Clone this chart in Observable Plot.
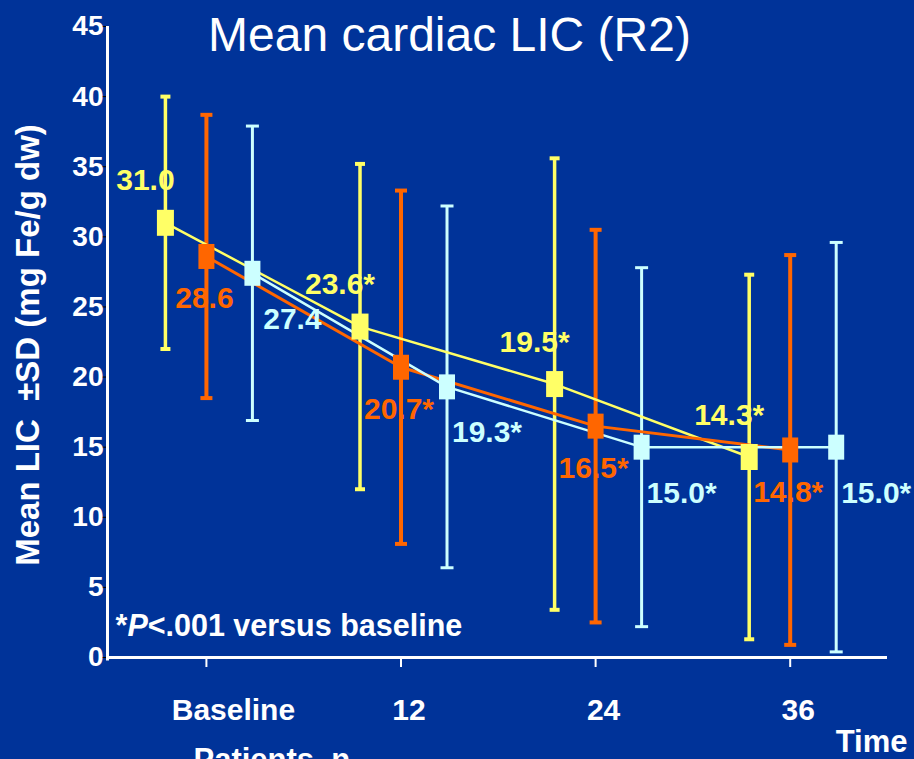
<!DOCTYPE html>
<html>
<head>
<meta charset="utf-8">
<script src="https://cdn.jsdelivr.net/npm/d3@7"></script>
<script src="https://cdn.jsdelivr.net/npm/@observablehq/plot@0.6"></script>
<style>
  html, body { margin: 0; padding: 0; background: #003399; overflow: hidden; }
  #chart svg { display: block; }
</style>
</head>
<body>
<div id="chart"></div>
<script>
// Time points (months) and their axis labels
const months = [0, 12, 24, 36];
const monthLabels = ["Baseline", "12", "24", "36"];
const yTicks = [0, 5, 10, 15, 20, 25, 30, 35, 40, 45];

// Mean cardiac LIC (mg Fe/g dw) and standard deviation per group
const yellowMean = [31.0, 23.6, 19.5, 14.3];
const yellowSD   = [9.0, 11.6, 16.1, 13.0];
const orangeMean = [28.6, 20.7, 16.5, 14.8];
const orangeSD   = [10.1, 12.6, 14.0, 13.9];
const cyanMean   = [27.4, 19.3, 15.0, 15.0];
const cyanSD     = [10.5, 12.9, 12.8, 14.6];

const titleText = "Mean cardiac LIC (R2)";
const yLabel = "Mean LIC  \u00b1SD (mg Fe/g dw)";
const footnote = "*P<.001 versus baseline";

// Visual styling for each group
const groups = [
  {mean: yellowMean, sd: yellowSD, color: "#ffff66", dx: -41, bar: 3.5, line: 2.5, cap: [10, 4], box: [17, 26], label: [-20, -42]},
  {mean: orangeMean, sd: orangeSD, color: "#ff6600", dx: 0,   bar: 4,   line: 3,   cap: [12, 4], box: [16, 25], label: [-2, 42]},
  {mean: cyanMean,   sd: cyanSD,   color: "#ccffff", dx: 46,  bar: 3,   line: 2.5, cap: [13, 3], box: [16, 25], label: [40, 46]}
];

const rect = (w, h) => ({draw(ctx) { ctx.rect(-w / 2, -h / 2, w, h); }});
const font = "'Liberation Sans', Arial, Helvetica, sans-serif";

const rowsOf = g => months.map((m, i) => ({
  month: m,
  mean: g.mean[i],
  sd: g.sd[i],
  label: g.mean[i].toFixed(1) + (i > 0 ? "*" : "")
}));

const xDomain = [-6.1, 42];

const bars = [], lines = [], boxes = [], labels = [];
for (const g of groups) {
  const rows = rowsOf(g);
  bars.push(
    Plot.ruleX(rows, {x: "month", y1: d => d.mean - d.sd, y2: d => d.mean + d.sd, stroke: g.color, strokeWidth: g.bar, dx: g.dx}),
    Plot.dot(rows, {x: "month", y: d => d.mean + d.sd, symbol: rect(...g.cap), fill: g.color, stroke: "none", dx: g.dx}),
    Plot.dot(rows, {x: "month", y: d => d.mean - d.sd, symbol: rect(...g.cap), fill: g.color, stroke: "none", dx: g.dx})
  );
  lines.push(Plot.line(rows, {x: "month", y: "mean", stroke: g.color, strokeWidth: g.line, dx: g.dx}));
  boxes.push(Plot.dot(rows, {x: "month", y: "mean", symbol: rect(...g.box), fill: g.color, stroke: "none", dx: g.dx}));
  labels.push(Plot.text(rows, {
    x: "month", y: "mean", text: "label", fill: g.color,
    dx: g.dx + g.label[0], dy: g.label[1],
    fontSize: 30, fontWeight: "bold"
  }));
}

// Month labels under the x axis
const ticks = months.map((m, i) => ({month: m, label: monthLabels[i]}));
const tickText = (filter, dx) => Plot.text(ticks, {
  filter, x: "month", text: "label", frameAnchor: "bottom", lineAnchor: "top",
  dx, dy: 41, fontSize: 30, fontWeight: "bold", fill: "white"
});

const chart = Plot.plot({
  width: 914,
  height: 759,
  marginLeft: 107,
  marginRight: 27,
  marginTop: 26,
  marginBottom: 102,
  style: {background: "#003399", color: "white", fontFamily: font},
  x: {domain: xDomain},
  y: {domain: [0, 45]},
  marks: [
    Plot.axisY({ticks: yTicks, tickSize: 5, tickPadding: -1, stroke: "black", fill: "white",
      fontSize: 28, fontWeight: "bold", label: null}),
    Plot.axisX({ticks: months, tickFormat: () => "", tickSize: 10, stroke: "white", strokeWidth: 2, label: null}),
    tickText(d => d.month === 0, 27),
    tickText(d => d.month !== 0, 8),
    Plot.ruleY([0], {stroke: "white", strokeWidth: 3}),
    Plot.ruleX([xDomain[0]], {stroke: "white", strokeWidth: 3, y1: 45, y2: -0.25}),
    ...bars,
    ...lines,
    ...boxes,
    ...labels,
    Plot.text([titleText], {text: d => d, frameAnchor: "top", lineAnchor: "bottom",
      dx: -48, dy: 24, fontSize: 48, fill: "white"}),
    Plot.text([yLabel], {text: d => d, frameAnchor: "left", textAnchor: "middle", rotate: -90,
      dx: -79, dy: 3, fontSize: 33, fontWeight: "bold", fill: "white"}),
    Plot.text([footnote], {text: d => d, frameAnchor: "bottom-left", textAnchor: "start", lineAnchor: "bottom",
      dx: 8, dy: -22, fontSize: 30.5, fontWeight: "bold", fill: "white"}),
    Plot.text(["Time"], {text: d => d, frameAnchor: "bottom-right", textAnchor: "end", lineAnchor: "bottom",
      dx: 20, dy: 94, fontSize: 31, fontWeight: "bold", fill: "white"}),
    Plot.text(["Patients, n"], {text: d => d, frameAnchor: "bottom-left", textAnchor: "start", lineAnchor: "bottom",
      dx: 86, dy: 112, fontSize: 31, fontWeight: "bold", fill: "white"})
  ]
});

// Italicise the "P" of the footnote
d3.select(chart).selectAll("text").each(function () {
  if (this.textContent === footnote) {
    const t = d3.select(this);
    t.text(null);
    t.append("tspan").text("*");
    t.append("tspan").attr("font-style", "italic").text("P");
    t.append("tspan").text(footnote.slice(2));
  }
});

document.getElementById("chart").appendChild(chart);
</script>
</body>
</html>
